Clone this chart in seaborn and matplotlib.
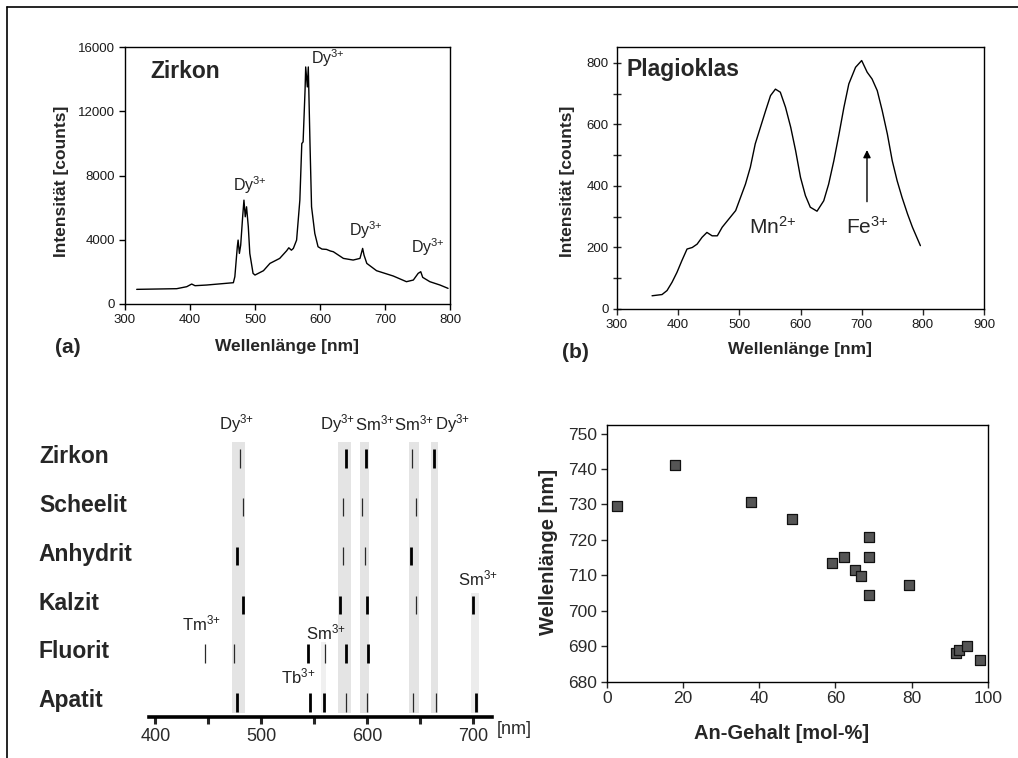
import matplotlib
matplotlib.use("Agg")
import matplotlib.pyplot as plt
import matplotlib.transforms as mtrans
from matplotlib.lines import Line2D
import numpy as np
import pandas as pd
import seaborn as sns

# ---------------- data ----------------
# (a) Zirkon spectrum
zirkon_wl = [318, 379.5, 395, 402.6, 407.7, 425.6, 466.7, 469, 472.8, 474, 476, 478, 481, 483,
             485, 487, 489.7, 492, 497, 500, 513, 523, 538, 548.7, 552, 556, 559, 564, 569, 572,
             574, 577, 578, 580.5, 582, 584.6, 587, 592, 597, 603, 610, 616, 620.5, 636, 651,
             661.5, 665.6, 667.7, 672, 687, 712.8, 733, 743.6, 751, 755, 758, 769, 784.6, 797]
zirkon_int = [912, 953, 1078, 1243, 1140, 1181, 1326, 1700, 3565, 3979, 3150, 3668, 5430, 6466,
              5430, 6052, 4808, 3150, 1907, 1803, 2073, 2528, 2839, 3316, 3500, 3350, 3461, 3979,
              6466, 9990, 10093, 13306, 14757, 13513, 14757, 9990, 6052, 4394, 3565, 3420, 3399,
              3300, 3254, 2839, 2736, 2839, 3461, 3047, 2528, 2073, 1741, 1389, 1492, 1907, 2010,
              1658, 1389, 1181, 974]
zirkon_lbl_x = [492, 612, 670, 766]
zirkon_lbl_y = [7400, 15300, 4600, 3550]

# (b) Plagioklas spectrum
plag_wl = [357.3, 373.6, 381.8, 390, 398, 406, 414.5, 423, 431, 439, 447, 455.5, 464, 472, 483,
           494, 502, 510, 518, 526, 534.5, 543, 551, 559, 567, 575.5, 584, 592, 600, 608, 616,
           627, 638, 646, 654.5, 663, 671, 679, 690, 700, 709, 717, 725.5, 733.6, 742, 750, 758,
           766, 775, 783, 796]
plag_int = [43, 47, 60, 87, 119, 157, 195, 200, 211, 233, 249, 238, 238, 266, 293, 320, 363, 406,
            461, 537, 591, 645, 694, 715, 705, 656, 591, 515, 428, 369, 331, 318, 352, 406, 482,
            569, 656, 732, 786, 808, 770, 748, 710, 645, 569, 482, 417, 363, 309, 266, 206]
mn_label = (553.6, 268)
fe_label = (708.7, 268)
fe_arrow = (708.7, 349, 517)

# (c) emission lines per mineral (nm, strong?)
minerals = ["Zirkon", "Scheelit", "Anhydrit", "Kalzit", "Fluorit", "Apatit"]
line_nm = {
    "Zirkon":   [479.8, 579.4, 598.5, 642.6, 663.3],
    "Scheelit": [483.0, 577.0, 594.7, 645.8],
    "Anhydrit": [476.6, 577.0, 598.0, 641.0],
    "Kalzit":   [482.3, 574.0, 599.5, 645.8, 699.4],
    "Fluorit":  [446.3, 474.4, 543.6, 559.6, 579.4, 600.4],
    "Apatit":   [476.6, 546.2, 559.0, 580.3, 599.5, 643.2, 665.0, 702.6],
}
line_strong = {
    "Zirkon":   [0, 1, 1, 0, 1],
    "Scheelit": [0, 0, 0, 0],
    "Anhydrit": [1, 0, 0, 1],
    "Kalzit":   [1, 1, 1, 0, 1],
    "Fluorit":  [0, 0, 1, 0, 1, 1],
    "Apatit":   [1, 1, 1, 0, 0, 0, 0, 1],
}
band_lo = [472.0, 572.4, 593.1, 639.4, 660.1, 697.4, 556.4]
band_hi = [484.4, 584.4, 601.7, 649.0, 667.1, 705.1, 561.2]
band_top_row = ["Zirkon", "Zirkon", "Zirkon", "Zirkon", "Zirkon", "Kalzit", "Fluorit"]
ion_text = ["Dy", "Dy", "Sm", "Sm", "Dy", "Sm", "Tm", "Sm", "Tb"]
ion_charge = ["3+"] * 9
ion_x = [476.6, 571.7, 607.2, 644.0, 680.2, 704.5, 443.7, 561.2, 534.7]
ion_y = [5.69, 5.69, 5.69, 5.69, 5.69, 2.51, 1.59, 1.41, 0.50]
c_ticks = [400, 450, 500, 550, 600, 650, 700]
c_ticklabels = ["400", "", "500", "", "600", "", "700"]

# (d) An content vs wavelength
an_content = [2.6, 17.9, 37.8, 48.6, 59.0, 62.2, 65.2, 66.7, 68.9, 68.9, 68.9, 79.3, 91.7, 92.3,
              94.5, 97.8]
an_wl = [729.5, 741.1, 730.7, 726.0, 713.6, 715.1, 711.4, 709.9, 720.7, 715.1, 704.4, 707.3,
         688.2, 688.9, 690.0, 686.0]

# ---------------- style ----------------
sns.set_style("white")
plt.rcParams["font.family"] = ["Liberation Sans", "DejaVu Sans"]
plt.rcParams["mathtext.fontset"] = "custom"
plt.rcParams["mathtext.rm"] = "Liberation Sans"
plt.rcParams["mathtext.it"] = "Liberation Sans"
plt.rcParams["mathtext.bf"] = "Liberation Sans:bold"

W, H = 1018, 758
fig = plt.figure(figsize=(W / 100, H / 100), dpi=100)
fig.patch.set_facecolor("white")


def rect(l, t, r, b):
    return [l / W, 1 - b / H, (r - l) / W, (b - t) / H]


def ion(t, c):
    c = c.replace("+", "{+}")
    return t + r"$^{\mathrm{" + c + "}}$"


TXT = "#1a1a1a"

# ---------- (a) ----------
axa = fig.add_axes(rect(125, 47, 450, 304))
dfa = pd.DataFrame({"wl": zirkon_wl, "I": zirkon_int})
sns.lineplot(data=dfa, x="wl", y="I", ax=axa, color="black", lw=1.0, estimator=None, sort=False)
axa.set_xlim(300, 800)
axa.set_ylim(0, 16000)
axa.set_xticks(range(300, 801, 100))
axa.set_yticks(range(0, 16001, 4000))
axa.tick_params(direction="out", length=4, width=1, labelsize=9.5, labelcolor=TXT, color="black",
                left=True, bottom=True, pad=3)
for s in axa.spines.values():
    s.set_color("black"); s.set_linewidth(1)
axa.set_xlabel("Wellenlänge [nm]", fontsize=12.5, fontweight="bold")
axa.set_ylabel("Intensität [counts]", fontsize=12.5, fontweight="bold")
axa.xaxis.set_label_coords(0.4975, -0.166)
axa.yaxis.set_label_coords(-0.195, 0.476)
axa.xaxis.label.set_va("center"); axa.yaxis.label.set_va("center")
axa.text(0.077, 0.903, "Zirkon", transform=axa.transAxes, fontsize=16.5, fontweight="bold",
         ha="left", va="center")
for x, y in zip(zirkon_lbl_x, zirkon_lbl_y):
    axa.text(x, y, ion("Dy", "3+"), fontsize=11.5, ha="center", va="center", color="#222222")
fig.text(68 / W, 1 - 347 / H, "(a)", fontsize=15, fontweight="bold", ha="center", va="center")

# ---------- (b) ----------
axb = fig.add_axes(rect(617, 47, 984, 309))
dfb = pd.DataFrame({"wl": plag_wl, "I": plag_int})
sns.lineplot(data=dfb, x="wl", y="I", ax=axb, color="black", lw=1.0, estimator=None, sort=False)
axb.set_xlim(300, 900)
axb.set_ylim(0, 852)
axb.set_xticks(range(300, 901, 100))
axb.set_yticks(range(0, 801, 200))
axb.set_yticks(range(100, 800, 200), minor=True)
axb.tick_params(axis="x", direction="out", length=4, width=1, labelsize=9.5, labelcolor=TXT,
                bottom=True, pad=3)
axb.tick_params(axis="y", which="both", direction="inout", length=6, width=1, labelsize=9.5,
                labelcolor=TXT, left=True, pad=3)
for s in axb.spines.values():
    s.set_color("black"); s.set_linewidth(1)
axb.set_xlabel("Wellenlänge [nm]", fontsize=12.5, fontweight="bold")
axb.set_ylabel("Intensität [counts]", fontsize=12.5, fontweight="bold")
axb.xaxis.set_label_coords(0.498, -0.156)
axb.yaxis.set_label_coords(-0.135, 0.486)
axb.xaxis.label.set_va("center"); axb.yaxis.label.set_va("center")
axb.text(0.027, 0.915, "Plagioklas", transform=axb.transAxes, fontsize=16.5, fontweight="bold",
         ha="left", va="center")
axb.text(mn_label[0], mn_label[1], ion("Mn", "2+"), fontsize=15, ha="center", va="center")
axb.text(fe_label[0], fe_label[1], ion("Fe", "3+"), fontsize=15, ha="center", va="center")
axb.annotate("", xy=(fe_arrow[0], fe_arrow[2]), xytext=(fe_arrow[0], fe_arrow[1]),
             arrowprops=dict(arrowstyle="-|>", color="black", lw=1, mutation_scale=11,
                             shrinkA=0, shrinkB=0))
fig.text(575 / W, 1 - 352 / H, "(b)", fontsize=15, fontweight="bold", ha="center", va="center")

# ---------- (c) ----------
axc = fig.add_axes(rect(148.7, 400, 491.9, 717))
axc.set_xlim(393.6, 717.6)
axc.set_ylim(-0.332, 6.164)
row_y = {m: len(minerals) - 1 - i for i, m in enumerate(minerals)}
for lo, hi, top in zip(band_lo, band_hi, band_top_row):
    col = "#e4e4e4" if top == "Zirkon" else ("#ececec" if top == "Kalzit" else "#f0f0f0")
    axc.fill_between([lo, hi], -0.25, row_y[top] + 0.3 if top == "Zirkon" else row_y[top] + 0.215,
                     color=col, lw=0, zorder=1)
for m in minerals:
    y0 = row_y[m]
    for x, st in zip(line_nm[m], line_strong[m]):
        axc.vlines(x, y0 - 0.221, y0 + 0.154, colors="black" if st else "#2a2a2a",
                   lw=2.0 if st else 0.9, zorder=3)
for t, c, x, y in zip(ion_text, ion_charge, ion_x, ion_y):
    axc.text(x, y, ion(t, c), fontsize=12, ha="center", va="center", color="#222222")
blend = mtrans.blended_transform_factory(fig.transFigure, axc.transData)
for m in minerals:
    axc.text(38.9 / W, row_y[m], m, transform=blend, fontsize=16.5, fontweight="bold",
             ha="left", va="center")
for side in ["top", "right", "left"]:
    axc.spines[side].set_visible(False)
axc.spines["bottom"].set_linewidth(2.6)
axc.spines["bottom"].set_color("black")
axc.set_yticks([])
axc.set_xticks(c_ticks)
axc.set_xticklabels(c_ticklabels)
axc.tick_params(axis="x", direction="out", length=5, width=2.2, labelsize=13, labelcolor="#2a2a2a",
                bottom=True, pad=3)
axc.text(722.4, -0.041, "[nm]", transform=axc.get_xaxis_transform(), fontsize=13,
         ha="left", va="center", color="#2a2a2a", clip_on=False)
axc.patch.set_alpha(0)

# ---------- (d) ----------
axd = fig.add_axes(rect(606.7, 424.7, 988, 681.7))
dfd = pd.DataFrame({"an": an_content, "wl": an_wl})
sns.scatterplot(data=dfd, x="an", y="wl", ax=axd, marker="s", s=55, color="#555555",
                edgecolor="#111111", linewidth=0.9, zorder=3)
axd.set_xlim(0, 100)
axd.set_ylim(680, 752.5)
axd.set_xticks(range(0, 101, 20))
axd.set_yticks(range(680, 751, 10))
axd.tick_params(direction="out", length=4, width=1, labelsize=12.5, labelcolor="#2a2a2a",
                left=True, bottom=True, pad=3)
for s in axd.spines.values():
    s.set_color("black"); s.set_linewidth(1)
axd.set_xlabel("An-Gehalt [mol-%]", fontsize=14.5, fontweight="bold")
axd.set_ylabel("Wellenlänge [nm]", fontsize=14.5, fontweight="bold")
axd.xaxis.set_label_coords(0.459, -0.2)
axd.yaxis.set_label_coords(-0.153, 0.503)
axd.xaxis.label.set_va("center"); axd.yaxis.label.set_va("center")

# ---------- frame ----------
fig.add_artist(Line2D([7 / W, 1.0], [1 - 7 / H, 1 - 7 / H], transform=fig.transFigure,
                      color="black", lw=1.2))
fig.add_artist(Line2D([7 / W, 7 / W], [0, 1 - 7 / H], transform=fig.transFigure,
                      color="black", lw=1.2))

fig.savefig("out.png", dpi=100, facecolor="white")
